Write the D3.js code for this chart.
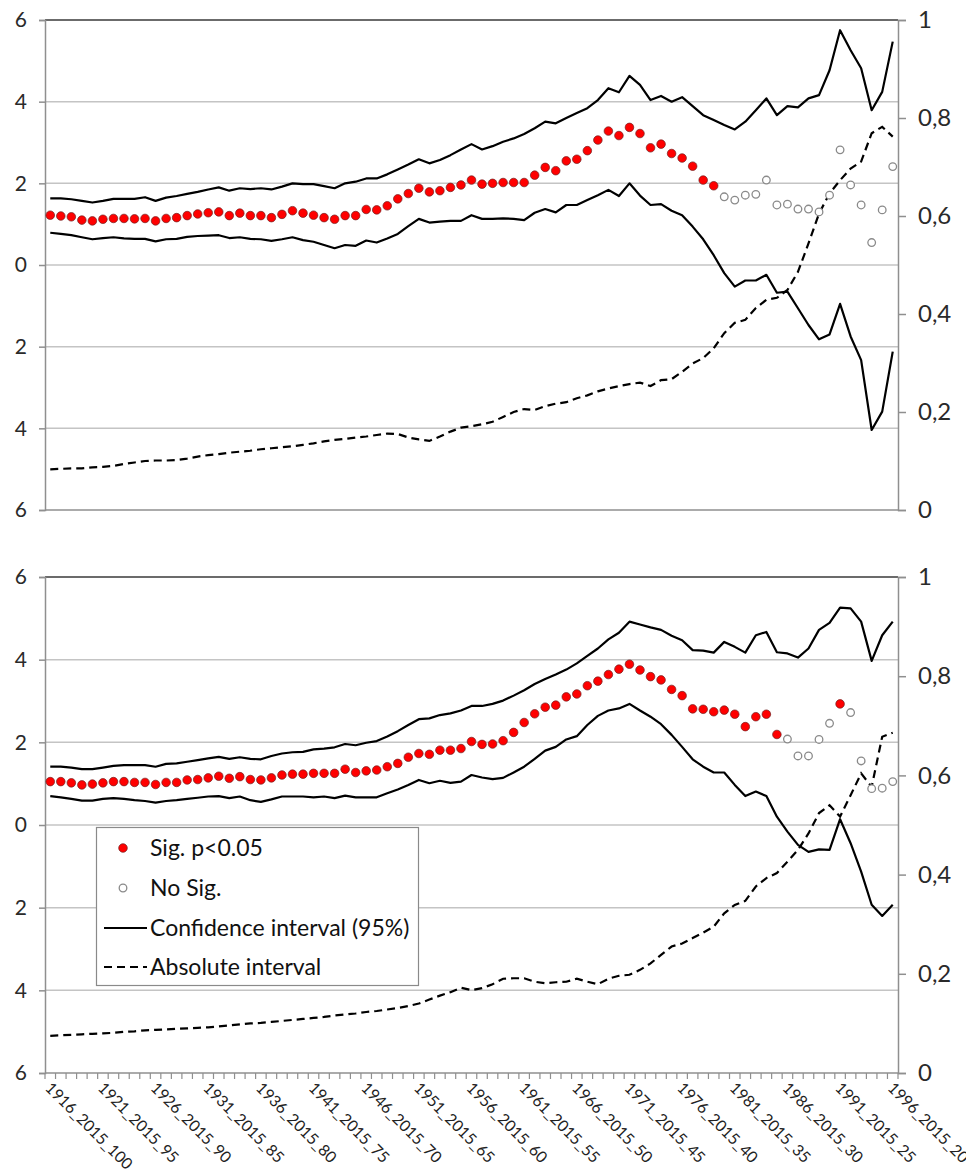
<!DOCTYPE html>
<html><head><meta charset="utf-8">
<script src="https://cdnjs.cloudflare.com/ajax/libs/d3/7.8.5/d3.min.js"></script>
<style>
html,body{margin:0;padding:0;background:#fff;}
svg{display:block;}
</style></head><body>
<svg id="chart" width="966" height="1173"></svg>
<script>
// ---------------- DATA ----------------
const categories = [
"1916_2015_100","1917_2015_99","1918_2015_98","1919_2015_97","1920_2015_96",
"1921_2015_95","1922_2015_94","1923_2015_93","1924_2015_92","1925_2015_91",
"1926_2015_90","1927_2015_89","1928_2015_88","1929_2015_87","1930_2015_86",
"1931_2015_85","1932_2015_84","1933_2015_83","1934_2015_82","1935_2015_81",
"1936_2015_80","1937_2015_79","1938_2015_78","1939_2015_77","1940_2015_76",
"1941_2015_75","1942_2015_74","1943_2015_73","1944_2015_72","1945_2015_71",
"1946_2015_70","1947_2015_69","1948_2015_68","1949_2015_67","1950_2015_66",
"1951_2015_65","1952_2015_64","1953_2015_63","1954_2015_62","1955_2015_61",
"1956_2015_60","1957_2015_59","1958_2015_58","1959_2015_57","1960_2015_56",
"1961_2015_55","1962_2015_54","1963_2015_53","1964_2015_52","1965_2015_51",
"1966_2015_50","1967_2015_49","1968_2015_48","1969_2015_47","1970_2015_46",
"1971_2015_45","1972_2015_44","1973_2015_43","1974_2015_42","1975_2015_41",
"1976_2015_40","1977_2015_39","1978_2015_38","1979_2015_37","1980_2015_36",
"1981_2015_35","1982_2015_34","1983_2015_33","1984_2015_32","1985_2015_31",
"1986_2015_30","1987_2015_29","1988_2015_28","1989_2015_27","1990_2015_26",
"1991_2015_25","1992_2015_24","1993_2015_23","1994_2015_22","1995_2015_21",
"1996_2015_20"];

const xTickLabels = ["1916_2015_100","1921_2015_95","1926_2015_90","1931_2015_85","1936_2015_80",
"1941_2015_75","1946_2015_70","1951_2015_65","1956_2015_60","1961_2015_55","1966_2015_50",
"1971_2015_45","1976_2015_40","1981_2015_35","1986_2015_30","1991_2015_25","1996_2015_20"];

const leftTicks = [-0.6, -0.4, -0.2, 0, 0.2, 0.4, 0.6];
// the reference is cropped on the left: only the last digit of each left tick label is visible
const leftTickText = ["6", "4", "2", "0", "2", "4", "6"];
const rightTicks = [0, 0.2, 0.4, 0.6, 0.8, 1];
const rightTickText = ["0", "0,2", "0,4", "0,6", "0,8", "1"];

const legendLabels = ["Sig. p<0.05", "No Sig.", "Confidence interval (95%)", "Absolute interval"];

// top panel
const topEffect = [
0.122,0.120,0.118,0.110,0.108,0.112,0.114,0.114,0.113,0.114,
0.108,0.114,0.116,0.121,0.125,0.128,0.130,0.121,0.127,0.121,
0.121,0.116,0.124,0.133,0.127,0.122,0.116,0.112,0.121,0.121,
0.136,0.135,0.145,0.162,0.175,0.188,0.179,0.182,0.190,0.196,
0.208,0.198,0.200,0.202,0.202,0.202,0.220,0.239,0.231,0.255,
0.259,0.280,0.306,0.328,0.317,0.337,0.322,0.287,0.296,0.273,
0.262,0.242,0.208,0.194,0.167,0.159,0.171,0.173,0.208,0.147,
0.149,0.137,0.137,0.130,0.171,0.282,0.196,0.147,0.055,0.135,0.241];
const topSignificant = [
1,1,1,1,1,1,1,1,1,1, 1,1,1,1,1,1,1,1,1,1, 1,1,1,1,1,1,1,1,1,1,
1,1,1,1,1,1,1,1,1,1, 1,1,1,1,1,1,1,1,1,1, 1,1,1,1,1,1,1,1,1,1,
1,1,1,1,0,0,0,0,0,0, 0,0,0,0,0,0,0,0,0,0,0];
const topUpper = [
0.163,0.163,0.161,0.157,0.153,0.157,0.162,0.162,0.162,0.166,
0.157,0.165,0.169,0.174,0.179,0.185,0.190,0.182,0.188,0.186,
0.188,0.185,0.192,0.200,0.198,0.198,0.193,0.188,0.200,0.204,
0.212,0.212,0.222,0.234,0.246,0.259,0.249,0.257,0.269,0.283,
0.296,0.283,0.291,0.302,0.310,0.321,0.335,0.351,0.347,0.360,
0.372,0.384,0.404,0.433,0.423,0.463,0.441,0.404,0.414,0.400,
0.411,0.389,0.367,0.355,0.343,0.332,0.351,0.379,0.408,0.367,
0.389,0.386,0.408,0.416,0.477,0.575,0.526,0.482,0.379,0.424,0.547];
const topLower = [
0.079,0.076,0.073,0.068,0.063,0.066,0.068,0.065,0.064,0.064,
0.058,0.063,0.064,0.069,0.071,0.072,0.073,0.066,0.068,0.064,
0.063,0.059,0.063,0.068,0.061,0.057,0.049,0.041,0.049,0.047,
0.060,0.055,0.065,0.076,0.095,0.113,0.104,0.106,0.108,0.108,
0.122,0.113,0.113,0.114,0.113,0.110,0.128,0.137,0.129,0.147,
0.147,0.159,0.171,0.184,0.169,0.200,0.170,0.147,0.149,0.133,
0.122,0.094,0.063,0.024,-0.020,-0.053,-0.038,-0.038,-0.024,-0.068,
-0.065,-0.106,-0.147,-0.182,-0.170,-0.095,-0.175,-0.233,-0.404,-0.359,-0.212];
const topAbsolute = [
0.083,0.084,0.085,0.085,0.087,0.088,0.090,0.094,0.097,0.100,
0.101,0.101,0.102,0.105,0.109,0.112,0.114,0.117,0.119,0.121,
0.124,0.126,0.128,0.130,0.133,0.136,0.140,0.143,0.145,0.148,
0.150,0.153,0.156,0.155,0.148,0.144,0.141,0.150,0.160,0.168,
0.171,0.175,0.180,0.190,0.200,0.206,0.204,0.212,0.217,0.220,
0.228,0.234,0.242,0.248,0.253,0.257,0.260,0.253,0.265,0.267,
0.282,0.299,0.310,0.330,0.361,0.382,0.388,0.412,0.429,0.433,
0.449,0.486,0.544,0.605,0.646,0.673,0.697,0.711,0.769,0.782,0.762];

// bottom panel
const bottomEffect = [
0.105,0.105,0.102,0.097,0.099,0.102,0.105,0.105,0.103,0.103,
0.098,0.103,0.103,0.109,0.110,0.114,0.118,0.113,0.117,0.110,
0.109,0.114,0.121,0.123,0.123,0.125,0.125,0.125,0.135,0.127,
0.131,0.133,0.141,0.149,0.164,0.173,0.171,0.181,0.181,0.185,
0.202,0.195,0.196,0.204,0.224,0.248,0.269,0.285,0.290,0.310,
0.317,0.337,0.348,0.364,0.377,0.389,0.375,0.359,0.351,0.328,
0.313,0.281,0.280,0.274,0.278,0.268,0.238,0.262,0.268,0.219,
0.208,0.167,0.167,0.207,0.246,0.293,0.272,0.155,0.088,0.089,0.105];
const bottomSignificant = [
1,1,1,1,1,1,1,1,1,1, 1,1,1,1,1,1,1,1,1,1, 1,1,1,1,1,1,1,1,1,1,
1,1,1,1,1,1,1,1,1,1, 1,1,1,1,1,1,1,1,1,1, 1,1,1,1,1,1,1,1,1,1,
1,1,1,1,1,1,1,1,1,1, 0,0,0,0,0,1,0,0,0,0,0];
const bottomUpper = [
0.141,0.141,0.139,0.135,0.135,0.139,0.143,0.145,0.145,0.145,
0.141,0.148,0.149,0.153,0.157,0.161,0.165,0.160,0.164,0.160,
0.159,0.167,0.173,0.176,0.177,0.183,0.185,0.188,0.196,0.193,
0.199,0.203,0.214,0.227,0.242,0.256,0.258,0.266,0.270,0.277,
0.288,0.288,0.293,0.301,0.313,0.326,0.341,0.353,0.364,0.376,
0.391,0.409,0.427,0.449,0.465,0.492,0.485,0.478,0.472,0.458,
0.447,0.423,0.422,0.417,0.443,0.431,0.417,0.459,0.467,0.418,
0.415,0.405,0.427,0.472,0.489,0.526,0.524,0.492,0.397,0.459,0.492];
const bottomLower = [
0.070,0.067,0.063,0.059,0.059,0.063,0.065,0.063,0.060,0.058,
0.054,0.058,0.060,0.063,0.066,0.069,0.070,0.065,0.069,0.060,
0.056,0.062,0.069,0.069,0.069,0.067,0.069,0.065,0.071,0.067,
0.067,0.067,0.077,0.086,0.097,0.109,0.101,0.107,0.102,0.105,
0.121,0.115,0.111,0.114,0.127,0.141,0.160,0.180,0.189,0.207,
0.215,0.242,0.264,0.277,0.282,0.293,0.277,0.262,0.244,0.218,
0.189,0.159,0.141,0.127,0.127,0.097,0.070,0.081,0.070,0.020,
-0.016,-0.048,-0.065,-0.059,-0.060,0.014,-0.044,-0.113,-0.193,-0.220,-0.193];
const bottomAbsolute = [
0.075,0.076,0.077,0.078,0.079,0.080,0.081,0.083,0.084,0.086,
0.087,0.088,0.089,0.090,0.091,0.092,0.094,0.096,0.098,0.100,
0.101,0.103,0.105,0.107,0.109,0.111,0.113,0.116,0.118,0.120,
0.123,0.125,0.128,0.131,0.135,0.140,0.148,0.156,0.163,0.172,
0.167,0.171,0.179,0.190,0.191,0.191,0.184,0.181,0.183,0.184,
0.190,0.184,0.179,0.190,0.196,0.198,0.208,0.221,0.238,0.255,
0.261,0.272,0.283,0.295,0.322,0.339,0.347,0.376,0.393,0.403,
0.426,0.450,0.483,0.524,0.540,0.517,0.560,0.604,0.577,0.678,0.686];

// ---------------- DRAW ----------------
const W = 966, H = 1173;
const plotLeft = 45, plotRight = 898;
const FONT = "Lato, 'Open Sans', sans-serif";
const svg = d3.select("#chart");
svg.append("rect").attr("width", W).attr("height", H).attr("fill", "#fff");

const x = d3.scaleBand().domain(categories).range([plotLeft, plotRight]).padding(0);
const xc = c => x(c) + x.bandwidth() / 2;

const panels = [
  { top: 20, bottom: 510, effect: topEffect, sig: topSignificant, upper: topUpper, lower: topLower, abs: topAbsolute, xLabels: false, legend: false },
  { top: 577, bottom: 1073, effect: bottomEffect, sig: bottomSignificant, upper: bottomUpper, lower: bottomLower, abs: bottomAbsolute, xLabels: true, legend: true }
];

panels.forEach(p => {
  const yL = d3.scaleLinear().domain([-0.6, 0.6]).range([p.bottom, p.top]);
  const yR = d3.scaleLinear().domain([0, 1]).range([p.bottom, p.top]);
  const g = svg.append("g");

  // gridlines
  g.append("g").selectAll("line").data(leftTicks.slice(1, -1)).join("line")
    .attr("x1", plotLeft).attr("x2", plotRight)
    .attr("y1", d => yL(d)).attr("y2", d => yL(d))
    .attr("stroke", "#c4c4c4").attr("stroke-width", 1.5);

  // plot border
  g.append("line").attr("x1", plotLeft).attr("x2", plotRight).attr("y1", p.top).attr("y2", p.top)
    .attr("stroke", "#3a3a3a").attr("stroke-width", 1.6);
  g.append("line").attr("x1", plotLeft).attr("x2", plotRight).attr("y1", p.bottom).attr("y2", p.bottom)
    .attr("stroke", "#8f8f8f").attr("stroke-width", 1.5);

  // left axis
  const la = g.append("g").attr("transform", `translate(${plotLeft},0)`)
    .call(d3.axisLeft(yL).tickValues(leftTicks).tickSize(6).tickPadding(12)
      .tickFormat((d, i) => leftTickText[i]));
  la.select(".domain").attr("stroke", "#8f8f8f").attr("stroke-width", 1.5);
  la.selectAll(".tick line").attr("stroke", "#8f8f8f").attr("stroke-width", 1.5);
  la.selectAll(".tick text").attr("font-family", FONT).attr("font-size", 21).attr("fill", "#2a2a2a");

  // right axis
  const ra = g.append("g").attr("transform", `translate(${plotRight},0)`)
    .call(d3.axisRight(yR).tickValues(rightTicks).tickSize(8).tickPadding(12)
      .tickFormat((d, i) => rightTickText[i]));
  ra.select(".domain").attr("stroke", "#8f8f8f").attr("stroke-width", 1.5);
  ra.selectAll(".tick line").attr("stroke", "#8f8f8f").attr("stroke-width", 1.5);
  ra.selectAll(".tick text").attr("font-family", FONT).attr("font-size", 24).attr("fill", "#2a2a2a");

  // x axis (category boundary ticks + labels) in the lower panel
  if (p.xLabels) {
    const bounds = categories.map(c => x(c)).concat([plotRight]);
    g.append("g").selectAll("line").data(bounds).join("line")
      .attr("x1", d => d).attr("x2", d => d).attr("y1", p.bottom).attr("y2", p.bottom + 6)
      .attr("stroke", "#8f8f8f").attr("stroke-width", 1.2);
    const xa = g.append("g").attr("transform", `translate(0,${p.bottom})`)
      .call(d3.axisBottom(x).tickValues(xTickLabels).tickSize(0).tickPadding(0));
    xa.select(".domain").remove();
    xa.selectAll(".tick text")
      .attr("font-family", FONT).attr("font-size", 15.8).attr("fill", "#222")
      .attr("text-anchor", "start")
      .attr("x", 0).attr("y", 0).attr("dy", "0.35em")
      .attr("transform", "translate(-2,12) rotate(45)");
  }

  // lines
  const lineL = d3.line().x((d, i) => xc(categories[i])).y(d => yL(d));
  const lineR = d3.line().x((d, i) => xc(categories[i])).y(d => yR(d));
  g.append("path").datum(p.upper).attr("d", lineL).attr("fill", "none")
    .attr("stroke", "#000").attr("stroke-width", 2.2).attr("stroke-linejoin", "round");
  g.append("path").datum(p.lower).attr("d", lineL).attr("fill", "none")
    .attr("stroke", "#000").attr("stroke-width", 2.2).attr("stroke-linejoin", "round");
  g.append("path").datum(p.abs).attr("d", lineR).attr("fill", "none")
    .attr("stroke", "#000").attr("stroke-width", 2.2).attr("stroke-dasharray", "8,5");

  // points
  const pts = p.effect.map((v, i) => ({ c: categories[i], v, s: p.sig[i] }));
  g.append("g").selectAll("circle").data(pts.filter(d => !d.s)).join("circle")
    .attr("cx", d => xc(d.c)).attr("cy", d => yL(d.v)).attr("r", 3.8)
    .attr("fill", "#fff").attr("stroke", "#8a8a8a").attr("stroke-width", 1.3);
  g.append("g").selectAll("circle").data(pts.filter(d => d.s)).join("circle")
    .attr("cx", d => xc(d.c)).attr("cy", d => yL(d.v)).attr("r", 4.3)
    .attr("fill", "#ff0000").attr("stroke", "#6e2020").attr("stroke-width", 0.7);

  // legend
  if (p.legend) {
    const lg = svg.append("g");
    lg.append("rect").attr("x", 96.5).attr("y", 827.5).attr("width", 322).attr("height", 158)
      .attr("fill", "#fff").attr("stroke", "#8a8a8a").attr("stroke-width", 1.2);
    const rows = [848, 888, 928, 967];
    lg.append("circle").attr("cx", 123).attr("cy", rows[0]).attr("r", 4.3)
      .attr("fill", "#ff0000").attr("stroke", "#6e2020").attr("stroke-width", 0.7);
    lg.append("circle").attr("cx", 123).attr("cy", rows[1]).attr("r", 3.8)
      .attr("fill", "#fff").attr("stroke", "#8a8a8a").attr("stroke-width", 1.3);
    lg.append("line").attr("x1", 104).attr("x2", 147).attr("y1", rows[2]).attr("y2", rows[2])
      .attr("stroke", "#000").attr("stroke-width", 2.2);
    lg.append("line").attr("x1", 104).attr("x2", 147).attr("y1", rows[3]).attr("y2", rows[3])
      .attr("stroke", "#000").attr("stroke-width", 2.2).attr("stroke-dasharray", "8,5");
    lg.selectAll("text").data(legendLabels).join("text")
      .attr("x", 150).attr("y", (d, i) => rows[i]).attr("dy", "0.36em")
      .attr("font-family", FONT).attr("font-size", 23).attr("fill", "#111")
      .text(d => d);
  }
});
</script>
</body></html>
